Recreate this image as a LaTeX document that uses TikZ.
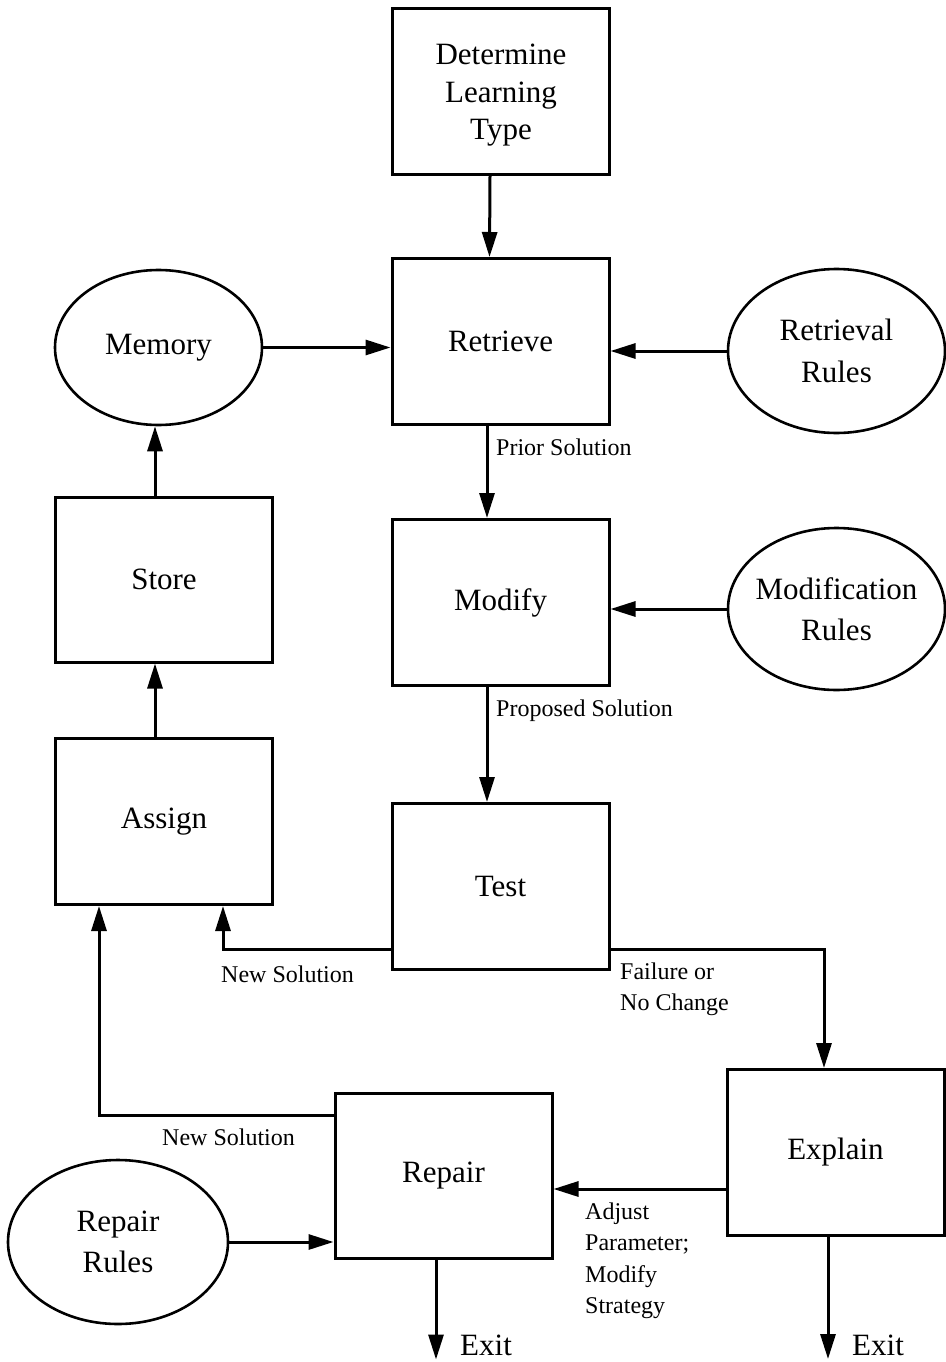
\documentclass[tikz,border=0pt]{standalone}
\usepackage{fontspec}
\setmainfont{Liberation Serif}
\usetikzlibrary{arrows.meta,shapes.geometric}
\begin{document}
\begin{tikzpicture}[x=1pt,y=-1pt,
  proc/.style={draw,line width=3pt,rectangle,minimum width=217pt,minimum height=166pt,
    inner sep=0pt,align=center,font=\fontsize{31}{37.5}\selectfont},
  store/.style={draw,line width=2.6pt,ellipse,inner xsep=-12pt,inner ysep=0pt,align=center,
    font=\fontsize{31}{41.5}\selectfont},
  arr/.style={line width=3pt,-{Triangle[length=25pt,width=15pt]}},
  lbl/.style={anchor=base west,inner sep=0pt,align=left,font=\fontsize{24}{31.5}\selectfont},
  exitlbl/.style={anchor=base west,inner sep=0pt,font=\fontsize{31}{37}\selectfont}]
\useasboundingbox (0,0) rectangle (945,1362);

% process boxes
\node[proc] (det) at (501,91.5) {\parbox{200pt}{\centering\vspace*{8pt}Determine\\Learning\\Type}};
\node[proc] (ret) at (500.5,341.5) {Retrieve};
\node[proc] (mod) at (500.5,602.5) {Modify};
\node[proc] (tst) at (500.5,886.5) {Test};
\node[proc,minimum height=165pt] (sto) at (164,579.5) {Store};
\node[proc] (asg) at (164,821.5) {Assign};
\node[proc] (exp) at (835.5,1152.5) {Explain};
\node[proc,minimum height=165pt] (rep) at (443.5,1175.5) {Repair};

% knowledge sources
\node[store,minimum width=207pt,minimum height=155pt] (mem) at (158.5,347.5) {Memory};
\node[store,minimum width=217pt,minimum height=164pt] (rrl) at (836.5,351) {Retrieval\\Rules};
\node[store,minimum width=217pt,minimum height=162pt] (mrl) at (836.5,609) {Modification\\Rules};
\node[store,minimum width=220pt,minimum height=164pt] (prl) at (118,1242) {Repair\\Rules};

% main flow
\draw[arr] ([xshift=-11pt]det.south) -- ([xshift=-11pt]ret.north);
\draw[arr] (mem) -- (ret.west |- mem);
\draw[arr] (rrl) -- (ret.east |- rrl);
\draw[arr] ([xshift=-13.5pt]ret.south) -- ([xshift=-13.5pt]mod.north);
\draw[arr] (mrl.west) -- (mod.east |- mrl.west);
\draw[arr] ([xshift=-13.5pt]mod.south) -- ([xshift=-13.5pt]tst.north);
\draw[arr] ([xshift=-9pt]asg.north) -- ([xshift=-9pt]sto.south);
\draw[arr] ([xshift=-9pt]sto.north) -- ([xshift=-3.5pt]mem.south);

% outcomes of the test
\draw[arr] ([yshift=22pt]tst.south west) -| ([xshift=-51pt]asg.south east);
\draw[arr] ([yshift=22pt]tst.south east) -| ([xshift=-11.5pt]exp.north);

% repair loop
\coordinate (ea) at ([yshift=-36.5pt]exp.west);
\draw[arr] (ea) -- (rep.east |- ea);
\draw[arr] (prl) -- (rep.west |- prl);
\draw[arr] ([yshift=-24pt]rep.north west) -| ([xshift=45pt]asg.south west);

% exits
\coordinate (xa) at ([xshift=-7.5pt,yshift=-100pt]rep.south);
\coordinate (xb) at ([xshift=-7.5pt,yshift=-122pt]exp.south);
\draw[arr] ([xshift=-7.5pt]rep.south) -- (xa);
\draw[arr] ([xshift=-7.5pt]exp.south) -- (xb);
\node[exitlbl] (xal) at (460,1355) {Exit};
\node[exitlbl] (xbl) at (852,1355) {Exit};

% connector labels (multi-line ones are anchored at their last baseline)
\node[lbl] (l1) at (496,455) {Prior Solution};
\node[lbl] (l2) at (496,716) {Proposed Solution};
\node[lbl] (l3) at (221,982) {New Solution};
\node[lbl] (l4) at (620,1010.5) {Failure or\\No Change};
\node[lbl] (l5) at (162,1145) {New Solution};
\node[lbl] (l6) at (585,1313.5) {Adjust\\Parameter;\\Modify\\Strategy};
\end{tikzpicture}
\end{document}
